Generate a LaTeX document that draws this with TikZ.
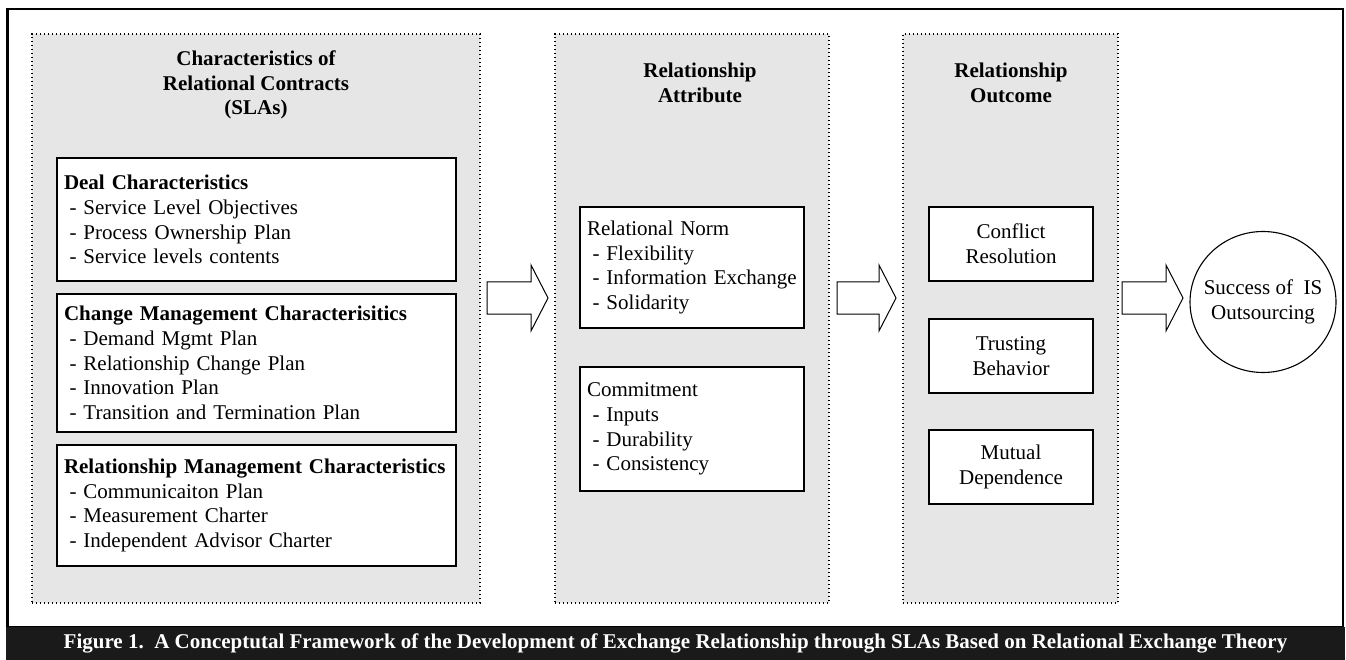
\documentclass[tikz,border=0pt]{standalone}
\usepackage{fontspec}
\setmainfont{Liberation Serif}
\usetikzlibrary{shapes.geometric}
\definecolor{panelgray}{RGB}{230,230,230}
\definecolor{barblack}{RGB}{26,26,26}
\newcommand\itm{\hspace*{5.5pt}- }
\begin{document}
\begin{tikzpicture}[x=1pt,y=-1pt,
  every node/.style={font=\fontsize{21}{24.8}\selectfont},
  panel/.style={draw=black, fill=panelgray, line width=1.1pt, dash pattern=on 1.1pt off 2.9pt, inner sep=0pt},
  listbox/.style={draw=black, fill=white, line width=1.1pt, align=left, inner xsep=7pt, inner ysep=0pt},
  centerbox/.style={draw=black, fill=white, line width=1.1pt, align=center, inner sep=0pt, minimum width=164pt, minimum height=74pt},
  paneltitle/.style={font=\bfseries\fontsize{21}{24.8}\selectfont, align=center},
  blockarrow/.style={draw=black, fill=white, line width=1pt, line join=miter}
]
\useasboundingbox (0,0) rectangle (1346,660);
\fill[white] (0,0) rectangle (1346,660);

% outer frame
\draw[line width=2.2pt] (7.5,9) rectangle (1343,627);

% caption bar
\node[fill=barblack, inner sep=0pt, minimum width=1339pt, minimum height=33pt, text=white,
      font=\bfseries\fontsize{21}{24}\selectfont] (cap) at (675.5,643.5)
  {Figure 1.\ \ A Conceptutal Framework of the Development of Exchange Relationship through SLAs Based on Relational Exchange Theory};

% panels
\node[panel, minimum width=448pt, minimum height=569pt] (p1) at (256,318.5) {};
\node[panel, minimum width=274pt, minimum height=569pt] (p2) at (692,318.5) {};
\node[panel, minimum width=215pt, minimum height=569pt] (p3) at (1010.5,318.5) {};

% titles
\node[paneltitle] (t1) at (256,85) {Characteristics of\\Relational Contracts\\(SLAs)};
\node[paneltitle] (t2) at (700,83) {Relationship\\Attribute};
\node[paneltitle] (t3) at (1011,83) {Relationship\\Outcome};

% left boxes
\node[listbox, text width=385pt, minimum height=123pt] (d1) at (256.5,219.5)
  {\textbf{Deal Characteristics}\\\itm Service Level Objectives\\\itm Process Ownership Plan\\\itm Service levels contents};
\node[listbox, text width=385pt, minimum height=138pt] (d2) at (256.5,363)
  {\textbf{Change Management Characterisitics}\\\itm Demand Mgmt Plan\\\itm Relationship Change Plan\\\itm Innovation Plan\\\itm Transition and Termination Plan};
\node[listbox, text width=385pt, minimum height=121pt] (d3) at (256.5,505.5)
  {\textbf{Relationship Management Characteristics}\\\itm Communicaiton Plan\\\itm Measurement Charter\\\itm Independent Advisor Charter};

% middle boxes
\node[listbox, text width=210pt, minimum height=121pt] (rn) at (692,267.5)
  {Relational Norm\\\itm Flexibility\\\itm Information Exchange\\\itm Solidarity};
\node[listbox, text width=210pt, minimum height=124pt] (cm) at (692,429)
  {Commitment\\\itm Inputs\\\itm Durability\\\itm Consistency};

% outcome boxes
\node[centerbox] (o1) at (1011,244) {Conflict\\Resolution};
\node[centerbox] (o2) at (1011,356) {Trusting\\Behavior};
\node[centerbox] (o3) at (1011,467) {Mutual\\Dependence};

% success ellipse
\node[ellipse, draw=black, line width=1.1pt, fill=white, minimum width=146pt, minimum height=141pt, inner sep=0pt] (succ) at (1263,302)
  {\makebox[0pt][c]{\begin{tabular}{@{}c@{}}Success of\ \ IS\\[-0.6pt]Outsourcing\end{tabular}}};

% block arrows
\coordinate (a1) at (487,298);
\coordinate (a2) at (837,298);
\coordinate (a3) at (1122,298);
\draw[blockarrow] (a1) ++(0,-16) -- ++(44,0) -- ++(0,-17) -- ++(17,33) -- ++(-17,33) -- ++(0,-17) -- ++(-44,0) -- cycle;
\draw[blockarrow] (a2) ++(0,-16) -- ++(42,0) -- ++(0,-17) -- ++(17,33) -- ++(-17,33) -- ++(0,-17) -- ++(-42,0) -- cycle;
\draw[blockarrow] (a3) ++(0,-16) -- ++(44,0) -- ++(0,-17) -- ++(17,33) -- ++(-17,33) -- ++(0,-17) -- ++(-44,0) -- cycle;
\end{tikzpicture}
\end{document}
